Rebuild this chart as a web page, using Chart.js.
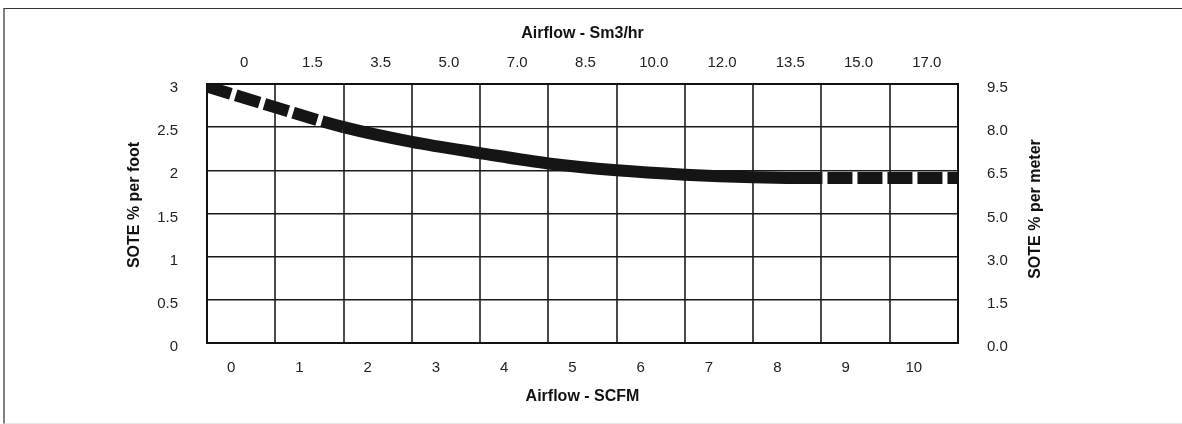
<!DOCTYPE html>
<html>
<head>
<meta charset="utf-8">
<script src="https://cdn.jsdelivr.net/npm/chart.js@4.4.0/dist/chart.umd.min.js"></script>
<style>
    html, body { margin: 0; padding: 0; background: #fff; }
    #wrap { position: relative; width: 1182px; height: 424px; }
    #frame {
        position: absolute; left: 3px; top: 8px; right: 0; height: 414px;
        border-top: 1px solid #333; border-left: 2px solid #808080; border-bottom: 1px solid #e6e6e6;
        pointer-events: none;
    }
</style>
</head>
<body>
<div id="wrap">
    <canvas id="soteChart"></canvas>
    <div id="frame"></div>
</div>
<script>
// positions along the grid (one cell = one unit) and SOTE
const gridPos = [0, 1, 2, 3, 4, 5, 6, 7, 8, 9, 10, 11];
const sotePerFoot = [2.97, 2.73, 2.50, 2.33, 2.20, 2.08, 2.00, 1.95, 1.92, 1.91, 1.91, 1.91];

// curve is dashed before / after these positions
const dashEndLeft = 2;
const dashStartRight = 9;

const scfmLabels = ['0', '1', '2', '3', '4', '5', '6', '7', '8', '9', '10'];
const sm3Labels = ['0', '1.5', '3.5', '5.0', '7.0', '8.5', '10.0', '12.0', '13.5', '15.0', '17.0'];
const footTicks = ['0', '0.5', '1', '1.5', '2', '2.5', '3'];
const meterTicks = ['0.0', '1.5', '3.0', '5.0', '6.5', '8.0', '9.5'];

Chart.defaults.font.family = '"Liberation Sans", Arial, Helvetica, sans-serif';
Chart.defaults.font.size = 15;
Chart.defaults.color = '#222';

// the two side titles read bottom-to-top
const sideTitles = {
    id: 'sideTitles',
    afterDraw(chart) {
        const ctx = chart.ctx;
        ctx.save();
        ctx.font = 'bold 16px "Liberation Sans", Arial, Helvetica, sans-serif';
        ctx.fillStyle = '#111';
        ctx.textAlign = 'center';
        ctx.textBaseline = 'middle';
        [[135, 205, 'SOTE % per foot'], [1036, 209, 'SOTE % per meter']].forEach(t => {
            ctx.save();
            ctx.translate(t[0], t[1]);
            ctx.rotate(-Math.PI / 2);
            ctx.fillText(t[2], 0, 0);
            ctx.restore();
        });
        ctx.restore();
    }
};

const points = gridPos.map((p, i) => ({ x: p, y: sotePerFoot[i] }));

new Chart(document.getElementById('soteChart'), {
    type: 'line',
    data: {
        datasets: [{
            data: points,
            xAxisID: 'xv',
            yAxisID: 'y',
            borderColor: '#151515',
            borderWidth: 12,
            borderCapStyle: 'butt',
            pointRadius: 0,
            cubicInterpolationMode: 'monotone',
            clip: 0,
            segment: {
                borderDash: c => (c.p1.parsed.x <= dashEndLeft || c.p0.parsed.x >= dashStartRight) ? [25, 5] : undefined,
                borderDashOffset: c => c.p0.parsed.x >= dashStartRight ? 24 : undefined
            }
        }]
    },
    options: {
        responsive: true,
        maintainAspectRatio: false,
        animation: false,
        layout: { padding: 0 },
        plugins: { legend: { display: false }, tooltip: { enabled: false } },
        scales: {
            xv: { type: 'linear', display: false, min: 0, max: 11 },
            x: {
                type: 'category',
                position: 'bottom',
                labels: scfmLabels,
                offset: true,
                grid: { offset: true, color: '#4a4a4a', lineWidth: 2, drawTicks: false },
                border: { color: '#111', width: 2 },
                ticks: { padding: 16, labelOffset: -10, maxRotation: 0 },
                title: { display: true, text: 'Airflow - SCFM', color: '#111', font: { size: 16, weight: 'bold' }, padding: { bottom: 18 } },
                afterFit: s => { s.height = 81; }
            },
            x2: {
                type: 'category',
                position: 'top',
                labels: sm3Labels,
                offset: true,
                grid: { display: false, drawTicks: false },
                border: { color: '#111', width: 2 },
                ticks: { padding: 12, labelOffset: 3, maxRotation: 0 },
                title: { display: true, text: 'Airflow - Sm3/hr', color: '#111', font: { size: 16, weight: 'bold' }, padding: { top: 24 } },
                afterFit: s => { s.height = 84; }
            },
            y: {
                position: 'left',
                min: 0,
                max: 3,
                grid: { color: '#1a1a1a', lineWidth: 1.5, drawTicks: false },
                border: { color: '#111', width: 2 },
                ticks: { stepSize: 0.5, padding: 29, labelOffset: 4, callback: (v, i) => footTicks[i] },
                afterFit: s => { s.width = 207; }
            },
            y2: {
                position: 'right',
                min: 0,
                max: 3,
                grid: { display: false, drawTicks: false },
                border: { color: '#111', width: 2 },
                ticks: { stepSize: 0.5, padding: 29, labelOffset: 4, callback: (v, i) => meterTicks[i] },
                afterFit: s => { s.width = 224; }
            }
        }
    },
    plugins: [sideTitles]
});
</script>
</body>
</html>
